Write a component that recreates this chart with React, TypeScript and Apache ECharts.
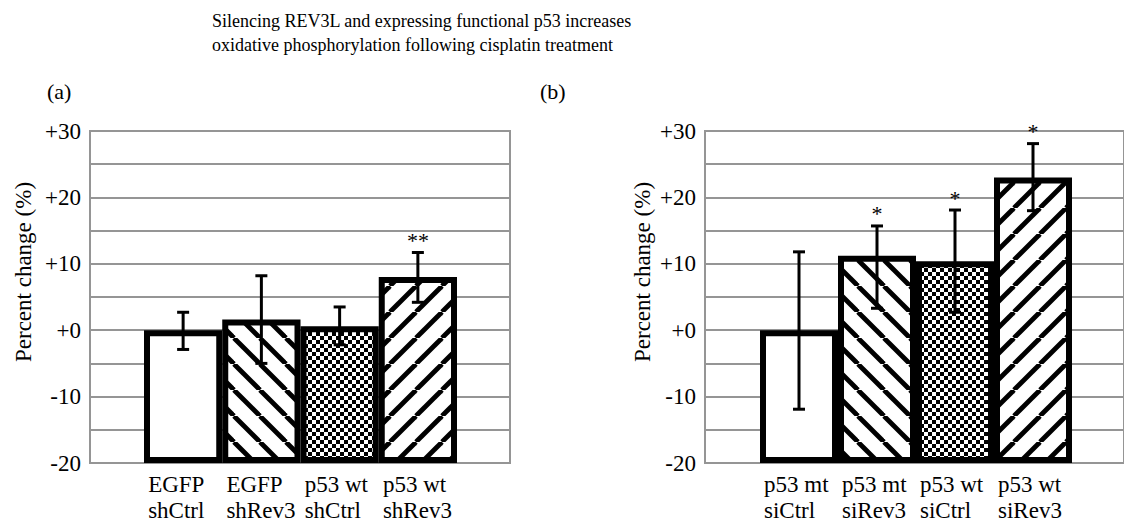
import React, { useEffect, useRef } from "react";
import * as echarts from "echarts";

const TITLE = "Silencing REV3L and expressing functional p53 increases\noxidative phosphorylation following cisplatin treatment";
const Y_NAME = "Percent change (%)";

const categoriesA = ["EGFP\nshCtrl", "EGFP\nshRev3", "p53 wt\nshCtrl", "p53 wt\nshRev3"];
const valuesA = [0, 1.6, 0.6, 8.0];
const errUpA = [2.7, 6.6, 2.9, 3.7];
const errDownA = [2.9, 6.6, 2.8, 3.8];
const sigA = ["", "", "", "**"];

const categoriesB = ["p53 mt\nsiCtrl", "p53 mt\nsiRev3", "p53 wt\nsiCtrl", "p53 wt\nsiRev3"];
const valuesB = [0, 11.2, 10.4, 23.0];
const errUpB = [11.8, 4.5, 7.7, 5.1];
const errDownB = [11.9, 7.9, 7.7, 5.0];
const sigB = ["", "*", "*", "*"];

const yTicks = [-20, -10, 0, 10, 20, 30];

const FONT = "Liberation Serif";

function stripe(dir: number): string {
  const s = 26;
  const c = document.createElement("canvas");
  c.width = s;
  c.height = s;
  const ctx = c.getContext("2d")!;
  ctx.fillStyle = "#fff";
  ctx.fillRect(0, 0, s, s);
  ctx.strokeStyle = "#000";
  ctx.lineWidth = 4.8;
  for (let k = -1; k <= 1; k++) {
    ctx.beginPath();
    if (dir === 1) {
      ctx.moveTo(k * s, 0);
      ctx.lineTo(k * s + s, s);
    } else {
      ctx.moveTo(k * s, s);
      ctx.lineTo(k * s + s, 0);
    }
    ctx.stroke();
  }
  return c.toDataURL();
}

function checker(): string {
  const s = 8;
  const c = document.createElement("canvas");
  c.width = s;
  c.height = s;
  const ctx = c.getContext("2d")!;
  ctx.fillStyle = "#fff";
  ctx.fillRect(0, 0, s, s);
  ctx.fillStyle = "#000";
  ctx.fillRect(0, 0, 4, 4);
  ctx.fillRect(4, 4, 4, 4);
  return c.toDataURL();
}

export default function App() {
  const ref = useRef<HTMLDivElement>(null);

  useEffect(() => {
    if (!ref.current) return;
    const chart = echarts.init(ref.current, undefined, { renderer: "svg" });

    const fills: any[] = [
      "#ffffff",
      { image: stripe(1), repeat: "repeat", imageWidth: 26, imageHeight: 26 },
      { image: checker(), repeat: "repeat", imageWidth: 8, imageHeight: 8 },
      { image: stripe(-1), repeat: "repeat", imageWidth: 26, imageHeight: 26 },
    ];

    const gridLine = { color: "#959595", width: 2 };
    const serif23 = { fontSize: 23, fontFamily: FONT, color: "#000" };

    const frameY = (gi: number) => ({
      type: "value",
      gridIndex: gi,
      min: -20,
      max: 30,
      interval: 5,
      axisLine: { show: false },
      axisTick: { show: false },
      splitLine: { show: true, lineStyle: gridLine },
      axisLabel: {
        margin: 9,
        fontSize: 23,
        fontFamily: FONT,
        color: "#000",
        formatter: (v: number) =>
          yTicks.includes(v) ? "{t|" + (v >= 0 ? "+" + v : String(v)) + "}" : "",
        rich: { t: serif23 },
      },
    });
    const barY = (gi: number) => ({
      type: "value",
      gridIndex: gi,
      min: -20,
      max: 30,
      startValue: -20,
      show: false,
      splitLine: { show: false },
    });
    const frameX = (gi: number) => ({ type: "value", gridIndex: gi, min: 0, max: 1, show: false });
    const barX = (gi: number, cats: string[]) => ({
      type: "category",
      gridIndex: gi,
      data: cats,
      axisLine: { show: false },
      axisTick: { show: false },
      axisLabel: {
        margin: 8,
        interval: 0,
        fontSize: 23,
        fontFamily: FONT,
        color: "#000",
        lineHeight: 26,
        formatter: (v: string) => v.split("\n").map((l) => "{l|" + l + "}").join("\n"),
        rich: { l: { width: 70, align: "left", fontSize: 23, fontFamily: FONT, lineHeight: 26, color: "#000" } },
      },
    });

    const barSeries = (gi: number, vals: number[]) => ({
      type: "bar",
      xAxisIndex: gi,
      yAxisIndex: gi,
      barWidth: "100%",
      z: 2,
      itemStyle: { borderColor: "#000", borderWidth: 6 },
      data: vals.map((v, i) => ({ value: v, itemStyle: { color: fills[i] } })),
    });

    const errSeries = (gi: number, vals: number[], up: number[], down: number[], sig: string[]) => ({
      type: "custom",
      xAxisIndex: gi,
      yAxisIndex: gi,
      z: 5,
      encode: { x: 0, y: [1, 2] },
      data: vals.map((v, i) => [i, v - down[i], v + up[i]]),
      renderItem: (params: any, api: any) => {
        const i = api.value(0);
        const top = api.coord([i, api.value(2)]);
        const bot = api.coord([i, api.value(1)]);
        const st = { stroke: "#000", lineWidth: 3 };
        const children: any[] = [
          { type: "line", shape: { x1: top[0], y1: top[1], x2: bot[0], y2: bot[1] }, style: st },
          { type: "line", shape: { x1: top[0] - 6, y1: top[1], x2: top[0] + 6, y2: top[1] }, style: st },
          { type: "line", shape: { x1: bot[0] - 6, y1: bot[1], x2: bot[0] + 6, y2: bot[1] }, style: st },
        ];
        const s = sig[params.dataIndex];
        if (s) {
          children.push({
            type: "text",
            x: top[0],
            y: top[1] - 1,
            style: {
              text: "{s|" + s + "}",
              rich: { s: { fontSize: 22, fontFamily: FONT, fill: "#000" } },
              fontSize: 22,
              fontFamily: FONT,
              fill: "#000",
              align: "center",
              verticalAlign: "bottom",
            },
          });
        }
        return { type: "group", children };
      },
    });

    const nameText = (x: number) => ({
      type: "text",
      x,
      y: 272,
      rotation: Math.PI / 2,
      style: {
        text: "{n|" + Y_NAME + "}",
        rich: { n: { fontSize: 23, fontFamily: FONT, fill: "#000" } },
        fontSize: 23,
        fontFamily: FONT,
        fill: "#000",
        align: "center",
        verticalAlign: "middle",
      },
    });

    chart.setOption({
      animation: false,
      backgroundColor: "#fff",
      textStyle: { fontFamily: FONT },
      title: {
        text: TITLE,
        left: 212,
        top: 9,
        padding: 0,
        textStyle: { fontSize: 18, lineHeight: 24, fontWeight: "normal", fontFamily: FONT, color: "#000" },
      },
      grid: [
        { left: 90, top: 131, width: 420, height: 332, show: true, borderColor: "#959595", borderWidth: 2, backgroundColor: "transparent" },
        { left: 144, top: 131, width: 313, height: 332 },
        { left: 705, top: 131, width: 425, height: 332, show: true, borderColor: "#959595", borderWidth: 2, backgroundColor: "transparent" },
        { left: 760, top: 131, width: 312, height: 332 },
      ],
      xAxis: [frameX(0), barX(1, categoriesA), frameX(2), barX(3, categoriesB)],
      yAxis: [frameY(0), barY(1), frameY(2), barY(3)],
      series: [
        barSeries(1, valuesA),
        errSeries(1, valuesA, errUpA, errDownA, sigA),
        barSeries(3, valuesB),
        errSeries(3, valuesB, errUpB, errDownB, sigB),
      ],
      graphic: [
        { type: "text", x: 47, y: 91, style: { text: "(a)", fontSize: 22, fontFamily: FONT, fill: "#000", align: "left", verticalAlign: "middle" } },
        { type: "text", x: 540, y: 91, style: { text: "(b)", fontSize: 22, fontFamily: FONT, fill: "#000", align: "left", verticalAlign: "middle" } },
        nameText(23),
        nameText(642),
      ],
    });

    return () => chart.dispose();
  }, []);

  return (
    <div
      ref={ref}
      style={{ position: "absolute", left: 0, top: 0, width: 1124, height: 523, background: "#fff" }}
    />
  );
}
